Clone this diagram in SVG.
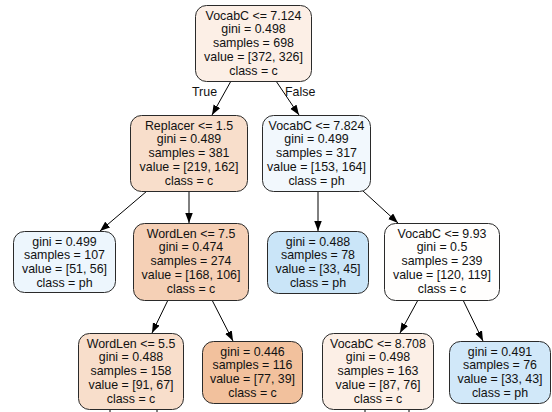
<svg xmlns="http://www.w3.org/2000/svg" width="552" height="412" viewBox="0 0 552 412">
<defs>
<marker id="ah" markerUnits="userSpaceOnUse" markerWidth="11" markerHeight="8" refX="10" refY="3.75" orient="auto">
<path d="M0,0 L10,3.75 L0,7.5 z" fill="#000"/>
</marker>
<style>
rect{stroke:#2a2a2a;stroke-width:1}
text{font-family:"Liberation Sans",Arial,Helvetica,sans-serif;font-size:12.4px;fill:#111;text-anchor:middle}
.e line{stroke:#000;stroke-width:1}
.e .a{marker-end:url(#ah)}
.lbl{text-anchor:start}
</style>
</defs>
<rect x="0" y="0" width="552" height="412" fill="#fff" style="stroke:none"/>
<g id="connectors" class="e">
<line class="a" x1="231" y1="81" x2="212" y2="115"/>
<line class="a" x1="276" y1="81" x2="299" y2="115"/>
<line class="a" x1="147" y1="191" x2="100" y2="231"/>
<line class="a" x1="189" y1="191" x2="189" y2="223"/>
<line class="a" x1="318" y1="191" x2="318" y2="231"/>
<line class="a" x1="363" y1="191" x2="398" y2="223"/>
<line class="a" x1="168" y1="300" x2="152" y2="333"/>
<line class="a" x1="212" y1="300" x2="233" y2="341"/>
<line class="a" x1="418" y1="300" x2="400" y2="333"/>
<line class="a" x1="463" y1="300" x2="483" y2="341"/>
<line x1="110" y1="409" x2="110" y2="413"/>
<line x1="157" y1="409" x2="157" y2="413"/>
<line x1="365" y1="409" x2="365" y2="413"/>
<line x1="409" y1="409" x2="409" y2="413"/>
<text class="lbl" x="192" y="96">True</text>
<text class="lbl" x="285" y="96">False</text>
</g>
<g id="n0">
<rect x="195.5" y="5.5" width="116" height="76" rx="11" fill="#fcefe6"/>
<text x="253.5" y="19.5">VocabC &lt;= 7.124</text>
<text x="253.5" y="33.3">gini = 0.498</text>
<text x="253.5" y="47.1">samples = 698</text>
<text x="253.5" y="60.9">value = [372, 326]</text>
<text x="253.5" y="74.7">class = c</text>
</g>
<g id="n1">
<rect x="130.5" y="115.5" width="117" height="76" rx="11" fill="#f8decb"/>
<text x="189" y="129.5">Replacer &lt;= 1.5</text>
<text x="189" y="143.3">gini = 0.489</text>
<text x="189" y="157.1">samples = 381</text>
<text x="189" y="170.9">value = [219, 162]</text>
<text x="189" y="184.7">class = c</text>
</g>
<g id="n2">
<rect x="262.5" y="115.5" width="108" height="76" rx="11" fill="#f2f8fd"/>
<text x="316.5" y="129.5">VocabC &lt;= 7.824</text>
<text x="316.5" y="143.3">gini = 0.499</text>
<text x="316.5" y="157.1">samples = 317</text>
<text x="316.5" y="170.9">value = [153, 164]</text>
<text x="316.5" y="184.7">class = ph</text>
</g>
<g id="n3">
<rect x="13.5" y="231.5" width="102" height="61" rx="11" fill="#edf6fd"/>
<text x="64.5" y="245.5">gini = 0.499</text>
<text x="64.5" y="259.3">samples = 107</text>
<text x="64.5" y="273.1">value = [51, 56]</text>
<text x="64.5" y="286.9">class = ph</text>
</g>
<g id="n4">
<rect x="133.5" y="223.5" width="115" height="77" rx="11" fill="#f5d0b6"/>
<text x="191" y="237.5">WordLen &lt;= 7.5</text>
<text x="191" y="251.3">gini = 0.474</text>
<text x="191" y="265.1">samples = 274</text>
<text x="191" y="278.9">value = [168, 106]</text>
<text x="191" y="292.7">class = c</text>
</g>
<g id="n5">
<rect x="267.5" y="231.5" width="101" height="62" rx="11" fill="#cae5f8"/>
<text x="318" y="245.5">gini = 0.488</text>
<text x="318" y="259.3">samples = 78</text>
<text x="318" y="273.1">value = [33, 45]</text>
<text x="318" y="286.9">class = ph</text>
</g>
<g id="n6">
<rect x="384.5" y="223.5" width="115" height="77" rx="11" fill="#fffefd"/>
<text x="442" y="237.5">VocabC &lt;= 9.93</text>
<text x="442" y="251.3">gini = 0.5</text>
<text x="442" y="265.1">samples = 239</text>
<text x="442" y="278.9">value = [120, 119]</text>
<text x="442" y="292.7">class = c</text>
</g>
<g id="n7">
<rect x="78.5" y="333.5" width="105" height="76" rx="11" fill="#f8decb"/>
<text x="131" y="347.5">WordLen &lt;= 5.5</text>
<text x="131" y="361.3">gini = 0.488</text>
<text x="131" y="375.1">samples = 158</text>
<text x="131" y="388.9">value = [91, 67]</text>
<text x="131" y="402.7">class = c</text>
</g>
<g id="n8">
<rect x="202.5" y="341.5" width="100" height="62" rx="11" fill="#f2c19d"/>
<text x="252.5" y="355.5">gini = 0.446</text>
<text x="252.5" y="369.3">samples = 116</text>
<text x="252.5" y="383.1">value = [77, 39]</text>
<text x="252.5" y="396.9">class = c</text>
</g>
<g id="n9">
<rect x="322.5" y="333.5" width="111" height="76" rx="11" fill="#fcefe6"/>
<text x="378" y="347.5">VocabC &lt;= 8.708</text>
<text x="378" y="361.3">gini = 0.498</text>
<text x="378" y="375.1">samples = 163</text>
<text x="378" y="388.9">value = [87, 76]</text>
<text x="378" y="402.7">class = c</text>
</g>
<g id="n10">
<rect x="449.5" y="341.5" width="101" height="62" rx="11" fill="#d1e8f9"/>
<text x="500" y="355.5">gini = 0.491</text>
<text x="500" y="369.3">samples = 76</text>
<text x="500" y="383.1">value = [33, 43]</text>
<text x="500" y="396.9">class = ph</text>
</g>
</svg>
